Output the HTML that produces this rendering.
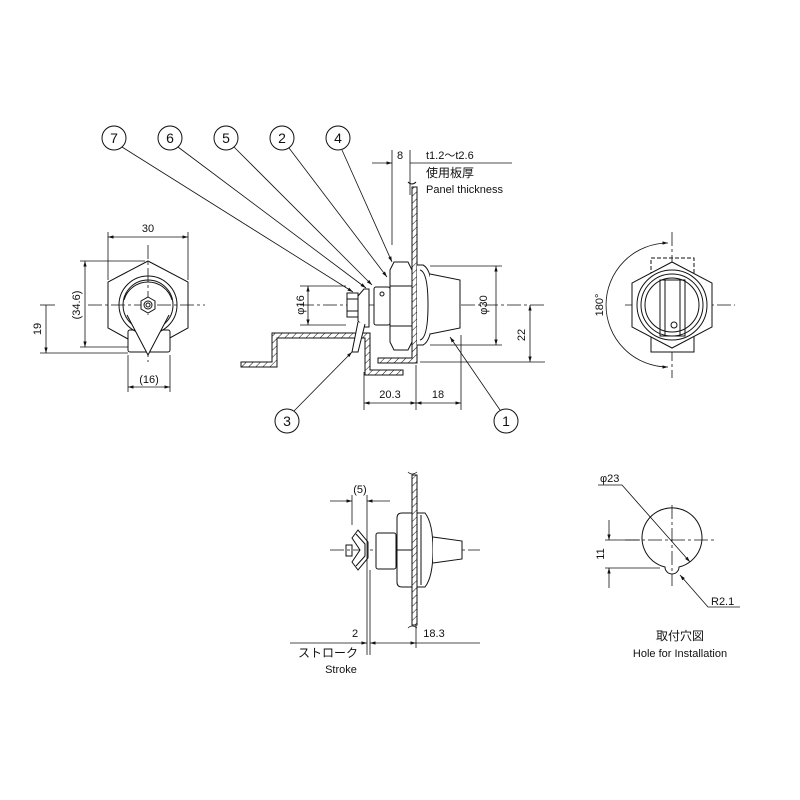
<!DOCTYPE html>
<html><head><meta charset="utf-8"><style>
body{margin:0;background:#fff}
svg{display:block}
text{font-family:"Liberation Sans","Noto Sans CJK JP",sans-serif;fill:#111}
</style></head><body>
<svg width="800" height="800" viewBox="0 0 800 800" xmlns="http://www.w3.org/2000/svg">
<defs>
<pattern id="h" width="5" height="5" patternUnits="userSpaceOnUse" patternTransform="rotate(45)">
<rect width="5" height="5" fill="#fff"/><line x1="0" y1="0" x2="0" y2="5" stroke="#111" stroke-width="1"/></pattern>
<marker id="a" viewBox="0 0 10 10" refX="10" refY="5" markerWidth="7" markerHeight="7" orient="auto-start-reverse"><path d="M0,2 L10,5 L0,8 z" fill="#111"/></marker>
</defs>
<g fill="none" stroke="#111" stroke-width="1">
<circle cx="114" cy="138" r="12"/><circle cx="170" cy="138" r="12"/><circle cx="226" cy="138" r="12"/><circle cx="282" cy="138" r="12"/><circle cx="338" cy="138" r="12"/>
<circle cx="287" cy="421" r="12"/><circle cx="506" cy="421" r="12"/>
<g stroke-width="0.8">
<line x1="122" y1="147" x2="353" y2="292" marker-end="url(#a)"/>
<line x1="178" y1="147" x2="366" y2="288" marker-end="url(#a)"/>
<line x1="234" y1="147" x2="372" y2="285" marker-end="url(#a)"/>
<line x1="289" y1="148" x2="387" y2="277" marker-end="url(#a)"/>
<line x1="342" y1="150" x2="392" y2="262" marker-end="url(#a)"/>
<line x1="294" y1="411" x2="352" y2="352" marker-end="url(#a)"/>
<line x1="500" y1="410" x2="450" y2="337" marker-end="url(#a)"/>
</g>

<line x1="300" y1="305" x2="545" y2="305" stroke-dasharray="14,3,3,3" stroke-width="0.8"/>
<path d="M241,362 h31 v-29 h98 v37 h33 v5 h-38 v-37 h-88 v29 h-36 z" fill="url(#h)"/>
<line x1="355" y1="333" x2="370" y2="333"/>
<path d="M412,187 v171 h-34 v5 h39 v-176 z" fill="url(#h)"/>
<path d="M408,182 q4,4 8,0"/>
<path d="M390,270 l4,-8 h14 l4,8 v72 l-4,8 h-14 l-4,-8 z" fill="#fff"/>
<line x1="390" y1="286" x2="412" y2="286"/><line x1="390" y1="326" x2="412" y2="326"/>
<path d="M417,265 h6 q10,5 10,40 q0,35 -10,40 h-6" fill="#fff"/>
<path d="M420,270 q8,2 8,35 q0,33 -8,35"/>
<path d="M430,274 l30,6 v48 l-30,6" fill="#fff"/>
<rect x="374" y="287" width="16" height="38" rx="2" fill="#fff"/>
<circle cx="382" cy="294" r="2"/>
<path d="M358,296 l6,-7 h5 v38 h-5 l-6,-6 z" fill="#fff"/>
<rect x="347" y="293" width="11" height="24" fill="#fff"/>
<line x1="347" y1="299" x2="358" y2="299"/><line x1="347" y1="311" x2="358" y2="311"/>
<path d="M358,322 l-6,30 h6 l7,-28" fill="#fff"/>
<g stroke-width="0.8">
<line x1="392" y1="150" x2="392" y2="245"/><line x1="410" y1="150" x2="410" y2="195"/>
<line x1="372" y1="163" x2="392" y2="163" marker-end="url(#a)"/>
<line x1="410" y1="163" x2="512" y2="163"/>
<line x1="300" y1="286" x2="346" y2="286"/><line x1="300" y1="325" x2="346" y2="325"/>
<line x1="308" y1="305" x2="308" y2="286" marker-end="url(#a)"/><line x1="308" y1="305" x2="308" y2="325" marker-end="url(#a)"/>
<line x1="430" y1="266" x2="502" y2="266"/><line x1="430" y1="345" x2="502" y2="345"/>
<line x1="496" y1="305" x2="496" y2="266" marker-end="url(#a)"/><line x1="496" y1="305" x2="496" y2="345" marker-end="url(#a)"/>
<line x1="420" y1="362" x2="545" y2="362"/>
<line x1="530" y1="330" x2="530" y2="305" marker-end="url(#a)"/><line x1="530" y1="330" x2="530" y2="362" marker-end="url(#a)"/>
<line x1="364" y1="372" x2="364" y2="410"/><line x1="416" y1="365" x2="416" y2="410"/><line x1="461" y1="335" x2="461" y2="410"/>
<line x1="390" y1="403" x2="364" y2="403" marker-end="url(#a)"/><line x1="390" y1="403" x2="416" y2="403" marker-end="url(#a)"/>
<line x1="438" y1="403" x2="416" y2="403" marker-end="url(#a)"/><line x1="438" y1="403" x2="461" y2="403" marker-end="url(#a)"/>
</g>

<polygon points="148,261 188,282 188,328 148,350 108,328 108,282" fill="#fff"/>
<rect x="128" y="330" width="42" height="22" rx="2" fill="#fff"/>
<line x1="88" y1="305" x2="205" y2="305" stroke-dasharray="14,3,3,3" stroke-width="0.8"/>
<line x1="148" y1="245" x2="148" y2="362" stroke-dasharray="14,3,3,3" stroke-width="0.8"/>
<circle cx="148" cy="305" r="29"/><circle cx="148" cy="305" r="25"/><path d="M124,300 a25,25 0 0 1 48,0"/>
<path d="M127,315 L148,355 L169,315" fill="#fff"/>
<polygon points="148,297 155,301 155,309 148,313 141,309 141,301" fill="#fff"/><circle cx="148" cy="305" r="4"/><circle cx="148" cy="305" r="2"/>
<g stroke-width="0.8">
<line x1="108" y1="232" x2="108" y2="280"/><line x1="188" y1="232" x2="188" y2="280"/>
<line x1="148" y1="237" x2="108" y2="237" marker-end="url(#a)"/><line x1="148" y1="237" x2="188" y2="237" marker-end="url(#a)"/>
<line x1="80" y1="261" x2="145" y2="261"/><line x1="80" y1="347" x2="128" y2="347"/>
<line x1="85" y1="305" x2="85" y2="261" marker-end="url(#a)"/><line x1="85" y1="305" x2="85" y2="347" marker-end="url(#a)"/>
<line x1="40" y1="305" x2="55" y2="305"/><line x1="40" y1="353" x2="128" y2="353"/>
<line x1="46" y1="305" x2="46" y2="353" marker-end="url(#a)"/>
<line x1="128" y1="355" x2="128" y2="392"/><line x1="170" y1="355" x2="170" y2="392"/>
<line x1="149" y1="387" x2="128" y2="387" marker-end="url(#a)"/><line x1="149" y1="387" x2="170" y2="387" marker-end="url(#a)"/>
</g>

<line x1="625" y1="305" x2="735" y2="305" stroke-dasharray="14,3,3,3" stroke-width="0.8"/>
<line x1="672" y1="232" x2="672" y2="378" stroke-dasharray="14,3,3,3" stroke-width="0.8"/>
<rect x="651" y="258" width="43" height="20" stroke-dasharray="4,2"/>
<rect x="651" y="332" width="43" height="20" fill="#fff"/>
<polygon points="672,262 712,283 712,327 672,348 632,327 632,283" fill="#fff"/>
<circle cx="672" cy="305" r="35"/><circle cx="672" cy="305" r="31"/><circle cx="672" cy="305" r="27"/>
<path d="M660,280 h25 v56 h-25 z M665,280 v56 M680,280 v56"/>
<circle cx="674" cy="325" r="3"/>
<path d="M668,243 A62,62 0 0 0 668,367" stroke-width="0.8" marker-start="url(#a)" marker-end="url(#a)"/>

<line x1="330" y1="550" x2="480" y2="550" stroke-dasharray="14,3,3,3" stroke-width="0.8"/>
<path d="M412,475 v150 h5 v-150 z" fill="url(#h)"/>
<path d="M408,472 q4,4 9,0 M408,628 q4,-4 9,0" stroke-width="0.8"/>
<path d="M397,518 q0,-5 5,-5 h10 v74 h-10 q-5,0 -5,-5 z" fill="#fff"/>
<line x1="397" y1="550" x2="412" y2="550"/>
<path d="M417,513 h8 q8,10 8,37 q0,27 -8,37 h-8 z" fill="#fff"/>
<line x1="421" y1="515" x2="421" y2="585"/>
<path d="M433,537 l29,4 v18 l-29,4" fill="#fff"/>
<rect x="376" y="533" width="20" height="36" rx="2" fill="#fff"/>
<path d="M352,538 l6,-8 l10,12 v16 l-10,12 l-6,-8 l8,-12 z" fill="#fff"/>
<path d="M356,534 l9,10 v12 l-9,10"/>
<rect x="346" y="545" width="6" height="11"/>
<g stroke-width="0.8">
<line x1="352" y1="495" x2="352" y2="525"/><line x1="367" y1="495" x2="367" y2="655"/><line x1="370" y1="570" x2="370" y2="655"/>
<line x1="330" y1="501" x2="352" y2="501" marker-end="url(#a)"/><line x1="390" y1="501" x2="367" y2="501" marker-end="url(#a)"/>
<line x1="416" y1="625" x2="416" y2="648"/>
<line x1="290" y1="643" x2="367" y2="643" marker-end="url(#a)"/>
<line x1="370" y1="643" x2="416" y2="643" marker-start="url(#a)" marker-end="url(#a)"/>
<line x1="416" y1="643" x2="480" y2="643"/>
</g>

<line x1="625" y1="540" x2="715" y2="540" stroke-dasharray="14,3,3,3" stroke-width="0.8"/>
<line x1="672" y1="505" x2="672" y2="586" stroke-dasharray="14,3,3,3" stroke-width="0.8"/>
<path d="M665,567 A30,30 0 1 1 679,567 A7,7 0 0 1 665,567 Z"/>
<g stroke-width="0.8">
<polyline points="598,485 622,485 690,562" marker-end="url(#a)"/>
<line x1="605" y1="540" x2="640" y2="540"/><line x1="605" y1="568" x2="660" y2="568"/>
<line x1="609" y1="520" x2="609" y2="540" marker-end="url(#a)"/><line x1="609" y1="588" x2="609" y2="568" marker-end="url(#a)"/>
<polyline points="740,607 708,607 680,575" marker-end="url(#a)"/>
</g>
</g>

<g font-size="14" text-anchor="middle">
<text x="114" y="143">7</text><text x="170" y="143">6</text><text x="226" y="143">5</text><text x="282" y="143">2</text><text x="338" y="143">4</text>
<text x="287" y="426">3</text><text x="506" y="426">1</text>
</g>
<g font-size="11">
<text x="397" y="159">8</text>
<text x="426" y="159">t1.2～t2.6</text>
<text x="426" y="177" font-size="12">使用板厚</text>
<text x="426" y="193">Panel thickness</text>
<text x="390" y="398" text-anchor="middle">20.3</text>
<text x="438" y="398" text-anchor="middle">18</text>
<text x="148" y="232" text-anchor="middle">30</text>
<text x="149" y="383" text-anchor="middle">(16)</text>
<text x="360" y="493" text-anchor="middle">(5)</text>
<text x="355" y="637" text-anchor="middle">2</text>
<text x="434" y="637" text-anchor="middle">18.3</text>
<text x="328" y="657" text-anchor="middle" font-size="12">ストローク</text>
<text x="341" y="673" text-anchor="middle">Stroke</text>
<text x="600" y="482">φ23</text>
<text x="711" y="605">R2.1</text>
<text x="680" y="640" text-anchor="middle" font-size="12">取付穴図</text>
<text x="680" y="657" text-anchor="middle">Hole for Installation</text>
<text transform="translate(304,305) rotate(-90)" text-anchor="middle">φ16</text>
<text transform="translate(487,305) rotate(-90)" text-anchor="middle">φ30</text>
<text transform="translate(525,335) rotate(-90)" text-anchor="middle">22</text>
<text transform="translate(80,305) rotate(-90)" text-anchor="middle">(34.6)</text>
<text transform="translate(41,329) rotate(-90)" text-anchor="middle">19</text>
<text transform="translate(603,305) rotate(-90)" text-anchor="middle">180°</text>
<text transform="translate(604,554) rotate(-90)" text-anchor="middle">11</text>
</g>
</svg>
</body></html>
